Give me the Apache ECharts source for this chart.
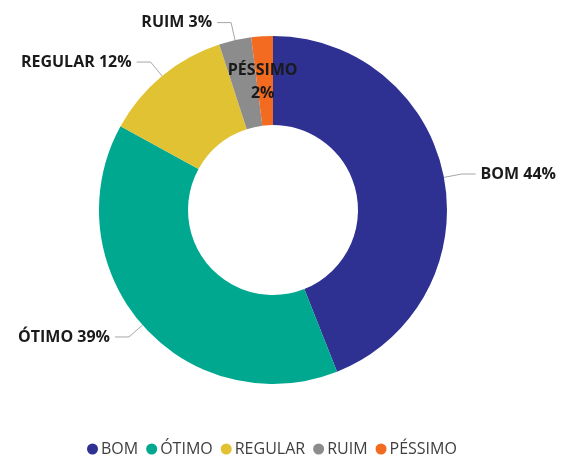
<!DOCTYPE html>
<html>
<head>
<meta charset="utf-8">
<script src="https://cdn.jsdelivr.net/npm/echarts@6/dist/echarts.min.js"></script>
<style>
  html, body { margin: 0; padding: 0; background: #fff; }
  #chart { width: 566px; height: 457px; }
</style>
</head>
<body>
<div id="chart"></div>
<script>
const categories = ["BOM", "ÓTIMO", "REGULAR", "RUIM", "PÉSSIMO"];
const values = [44, 39, 12, 3, 2];
const colors = ["#2E3192", "#00A88F", "#E1C232", "#8C8C8C", "#F26B21"];

const chart = echarts.init(document.getElementById("chart"));

const data = categories.map((name, i) => {
    const item = { name: name, value: values[i], itemStyle: { color: colors[i] } };
    if (name === "PÉSSIMO") {
        item.label = { position: "inside", formatter: "{b}\n{d}%", lineHeight: 23, offset: [-2, 4] };
        item.labelLine = { show: false };
    }
    return item;
});

chart.setOption({
    textStyle: { fontFamily: "Open Sans" },
    legend: {
        top: 436,
        left: 82,
        icon: "circle",
        itemWidth: 11,
        itemHeight: 11,
        itemGap: 8,
        textStyle: { fontSize: 16, color: "#404040", fontFamily: "Open Sans", padding: [0, 0, 0, -2] },
        data: categories
    },
    series: [
        {
            type: "pie",
            center: [273, 210],
            radius: [85, 174],
            startAngle: 90,
            clockwise: true,
            avoidLabelOverlap: true,
            label: {
                show: true,
                formatter: "{b} {d}%",
                fontSize: 16,
                fontWeight: "bold",
                color: "#1a1a1a",
                fontFamily: "Open Sans",
                overflow: "none",
                edgeDistance: 2
            },
            labelLine: {
                length: 18,
                length2: 14,
                lineStyle: { color: "#a6a6a6", width: 1 }
            },
            emphasis: { disabled: true },
            data: data
        }
    ]
});
</script>
</body>
</html>
